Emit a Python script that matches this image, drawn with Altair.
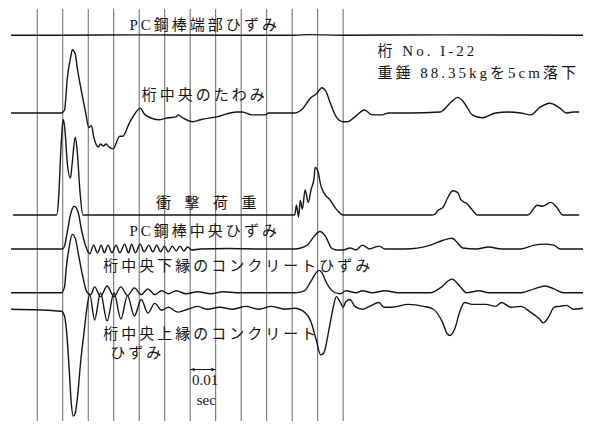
import altair as alt
import pandas as pd

# ---------------- data (time in ms from first timing mark, amplitude upward +) ----------------
timing_ms = [0, 10, 20, 30, 40, 50, 60, 70, 80, 90, 100, 110, 120]

end_t = [-10.3, 9.5, 40.0, 80.0, 101.0, 107.0, 120.0, 160.0, 214.1]
end_a = [0, 0, 0.3, 0, 0, 0.6, 0, 0.3, 0]

defl_t = [-10.3, 9.5, 10.7, 11.8, 13.3, 13.7, 14.9, 15.6, 17.5, 19.0, 20.2, 21.3, 22.1, 24.0, 24.8,
          25.9, 27.0, 27.8, 29.7, 32.4, 33.5, 36.2, 38.5, 40.4, 42.3, 48.0, 51.4, 54.5, 55.2, 57.1,
          61.0, 64.0, 70.5, 78.1, 80.4, 84.2, 89.5, 90.7, 101.0, 103.6, 107.4, 109.7, 111.6, 113.1,
          115.0, 117.3, 120.0, 121.9, 124.6, 128.4, 131.4, 135.2, 137.9, 145.5, 158.1, 161.9, 165.0,
          167.6, 170.7, 174.5, 179.8, 184.8, 189.7, 193.5, 197.3, 201.1, 205.0, 207.6, 210.3, 212.6]
defl_a = [0, 0, 3, 36, 60, 65, 61, 48, 20, 0, -15, -13, -24, -35, -32,
          -34, -32, -34, -37, -24, -24, -10, 0, 5, -2, -7, -5, -4, -2, -5,
          -9, -7, -4, 1, 1, -2, -2, 0, 0, 3, 16, 20, 26, 23,
          10, -4, -9, -9, -4, 3, -2, -2, 0, 0, 1, 10, 16,
          10, -2, -5, 0, 1, 0, -2, 6, 10, 5, 0, 1, 1]

load_t = [-9.5, 7.6, 8.4, 9.1, 9.9, 10.3, 11.0, 11.8, 13.0, 13.7, 14.9, 15.6, 16.8, 17.9,
          101.0, 101.7, 102.5, 103.2, 104.0, 105.1, 106.3, 107.4, 108.6, 109.0, 110.1, 111.2,
          112.4, 114.7, 117.3, 120.0, 154.7, 156.2, 156.9, 158.1, 159.2, 161.1, 163.0, 165.0,
          166.1, 168.8, 170.7, 172.6, 192.4, 196.2, 198.1, 201.5, 203.8, 206.1, 212.6]
load_a = [0, 0, 18, 58, 93, 98, 83, 53, 38, 53, 80, 68, 23, 0,
          0, 10, -2, 15, 6, 26, 13, 26, 38, 49, 45, 31,
          23, 16, 6, 0, 0, 1, 4, 6, 8, 18, 25, 23,
          16, 11, 5, 0, 0, 10, 9, 13, 8, 0, 0]

pcmid_t = [-10.3, 9.9, 10.7, 11.8, 13.0, 14.5, 16.0, 17.5, 19.0, 20.6, 22.1, 23.6, 25.1, 26.3,
           27.8, 29.3, 30.9, 32.4, 34.3, 35.8, 37.0, 38.5, 40.4, 41.9, 43.8, 45.3, 46.9, 48.4,
           49.9, 51.4, 53.0, 54.5, 56.0, 57.5, 59.0, 60.6, 64.0, 75.0, 88.0, 101.0, 105.9, 108.6,
           110.9, 113.1, 115.4, 117.3,
           120.0, 122.7, 125.0, 127.6, 130.3, 132.6, 134.1, 136.4, 144.0, 154.3, 159.2, 162.7,
           165.0, 166.9, 172.2, 177.1, 182.1, 189.7, 195.0, 198.9, 202.7, 205.0, 214.1]
pcmid_a = [0, 0, 3, 18, 35, 44, 38, 18, 3, -5, 4, -4, 4, -4,
           4, -4, 4, -4, 5, -4, 5, -4, 5, -3, 4, -3, 4, -3,
           3, -3, 3, -2, 3, -2, 2, -1, 0, 0.5, 0, 0, 4, 13,
           18, 13, 1, -1,
           -1, 1, -1, 4, 0, 2, 3, 0, 0, 4, 9, 11,
           6, 1, 0, 2, 0, 0, 4, 5, 4, 0, 0]

lower_t = [-10.3, 9.5, 10.7, 11.4, 12.6, 13.7, 14.9, 16.4, 17.9, 19.4, 21.0, 22.5, 24.8, 27.4,
           30.1, 32.8, 35.4, 38.1, 40.8, 43.4, 46.1, 48.8, 51.4, 54.5, 58.3, 63.0, 68.0, 73.0,
           78.0, 85.0, 101.0, 104.8, 107.4, 110.5, 111.6, 113.5, 116.2, 118.9, 121.1, 125.0, 127.6,
           131.4, 136.4, 141.7, 154.3, 158.1, 162.7, 165.7, 168.4, 173.3, 177.1, 189.7, 195.0,
           199.2, 202.7, 206.5, 214.1]
lower_a = [0, 0, 6, 26, 48, 60, 56, 36, 16, 1, -2, 6, -4, 7,
           -4, 6, -3, 5, -2, 4, -2, 2, -1, 2, -1, 1, -1, 1,
           0, 0, 0, 2, 12, 23, 21, 10, 1, -1, 2, 0, 2,
           0, 2, 0, 0, 5, 14, 7, 0, 2, 0, 0, 4,
           7, 4, 0, 0]

upper_t = [-10.3, 9.5, 10.7, 11.4, 12.6, 13.3, 14.1, 14.9, 15.6, 17.1, 18.3, 19.4, 20.6, 22.5,
           24.8, 27.4, 30.1, 32.8, 35.4, 38.1, 40.8, 43.4, 46.1, 48.8,
           51.4, 55.2, 59.0, 62.9, 66.7, 71.6, 76.6, 81.9, 86.9, 91.8, 97.1, 101.0, 104.8, 107.4,
           109.3, 111.2, 112.4, 114.3, 116.2, 117.3, 118.9, 120.0, 121.1, 122.7, 124.6, 127.6,
           130.3, 134.1, 136.0, 139.0, 145.5, 151.6, 155.4, 158.9, 160.8, 161.9, 163.8, 165.7,
           167.6, 170.7, 176.0, 179.8, 182.1, 185.9, 189.7, 193.5, 197.0, 198.5, 200.8, 202.7,
           205.0, 207.6, 210.3, 214.1]
upper_a = [0, -2, -7, -20, -65, -95, -110, -107, -95, -52, -25, 0, 15, -11,
           17, -12, 17, -10, 14, -7, 10, -4, 6, -1,
           2, -3, 0, 3, 0, 2, 0, 3, 0, 3, 0, 1, -3, -13,
           -30, -47, -45, -23, 3, 13, 7, 2, 8, 10, 3, 0,
           3, 7, 2, 2, 5, 3, 0, -13, -25, -27, -20, -3,
           7, 5, 5, 3, 7, 2, 3, -3, -10, -14, -7, 2,
           3, 4, 0, 1]

series_names = ["PC鋼棒端部ひずみ", "桁中央のたわみ", "衝撃荷重", "PC鋼棒中央ひずみ",
                "桁中央下縁のコンクリートひずみ", "桁中央上縁のコンクリートひずみ"]
series_t = [end_t, defl_t, load_t, pcmid_t, lower_t, upper_t]
series_a = [end_a, defl_a, load_a, pcmid_a, lower_a, upper_a]
# vertical position of each trace's zero line on the record
series_base = [397, 317, 212, 177, 132, 115]

# labels
TS = "\u2009"
center_labels = ["PC鋼棒端部ひずみ", "桁中央のたわみ", "衝\u2002撃\u2002荷\u2002重", "PC鋼棒中央ひずみ", "0.01", "sec"]
center_t = [65.1, 65.1, 66.3, 65.1, 65.9, 66.3]
center_lv = [408, 335, 224, 196, 42, 22]

left_labels = ["桁中央下縁のコンクリートひずみ", "桁中央上縁のコンクリート", "ひずみ",
               "桁 No. I-22", "重錘 88.35kgを5cm落下"]
left_t = [25.9, 25.9, 28.6, 133.5, 133.5]
left_lv = [160, 90, 70, 381, 358]

# ---------------- build tables ----------------
rows = []
for name, ts, amps, base in zip(series_names, series_t, series_a, series_base):
    for i, (t, a) in enumerate(zip(ts, amps)):
        rows.append({"series": name, "i": i, "t": t, "level": base + a})
traces = pd.DataFrame(rows)

grid = pd.DataFrame({"t": timing_ms, "top": 424, "bottom": 0})

def spaced(s):
    return TS.join(list(s))

ctext = pd.DataFrame({"t": center_t, "level": center_lv,
                      "label": [spaced(s) if i < 4 else s for i, s in enumerate(center_labels)]})
ltext = pd.DataFrame({"t": left_t, "level": left_lv, "label": [spaced(s) for s in left_labels]})

arrow = pd.DataFrame({"t1": [60.0], "t2": [70.0], "level": [53]})
heads = pd.DataFrame({"t": [61.0, 69.0], "level": [53, 53],
                      "shape": ["triangle-left", "triangle-right"]})

X = alt.Scale(domain=[-10.3, 214.1], nice=False, zero=False)
Y = alt.Scale(domain=[0, 425], nice=False, zero=False)
FONT = "Liberation Serif, Noto Sans CJK JP"

grid_layer = alt.Chart(grid).mark_rule(color="#555555", strokeWidth=0.9).encode(
    x=alt.X("t:Q", scale=X, axis=None),
    y=alt.Y("top:Q", scale=Y, axis=None),
    y2="bottom:Q",
)

trace_layer = alt.Chart(traces).mark_line(color="#151515", strokeWidth=1.4, interpolate="monotone").encode(
    x=alt.X("t:Q", scale=X, axis=None),
    y=alt.Y("level:Q", scale=Y, axis=None),
    detail="series:N",
    order="i:Q",
)

ctext_layer = alt.Chart(ctext).mark_text(font=FONT, fontSize=15, align="center", baseline="middle",
                                          color="#151515").encode(
    x=alt.X("t:Q", scale=X, axis=None),
    y=alt.Y("level:Q", scale=Y, axis=None),
    text="label:N",
)

ltext_layer = alt.Chart(ltext).mark_text(font=FONT, fontSize=15, align="left", baseline="middle",
                                          color="#151515").encode(
    x=alt.X("t:Q", scale=X, axis=None),
    y=alt.Y("level:Q", scale=Y, axis=None),
    text="label:N",
)

arrow_layer = alt.Chart(arrow).mark_rule(color="#151515", strokeWidth=1).encode(
    x=alt.X("t1:Q", scale=X, axis=None),
    x2="t2:Q",
    y=alt.Y("level:Q", scale=Y, axis=None),
)

head_layer = alt.Chart(heads).mark_point(filled=True, size=18, color="#151515", opacity=1).encode(
    x=alt.X("t:Q", scale=X, axis=None),
    y=alt.Y("level:Q", scale=Y, axis=None),
    shape=alt.Shape("shape:N", scale=None, legend=None),
)

chart = alt.layer(grid_layer, trace_layer, arrow_layer, head_layer, ctext_layer, ltext_layer).properties(
    width=578, height=414, padding=0,
    autosize=alt.AutoSizeParams(type="fit", contains="padding"),
    background="white",
).configure_view(stroke=None)

chart.save("out.html", embed_options={"renderer": "svg", "actions": False})
